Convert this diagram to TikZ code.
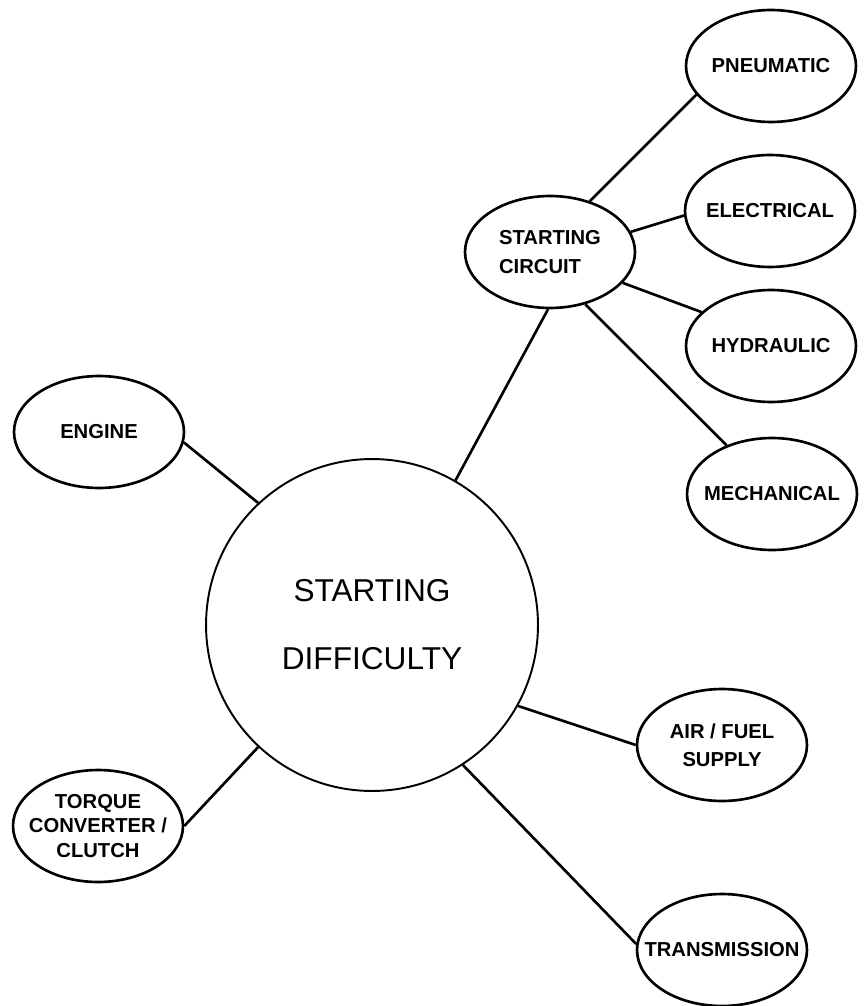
\documentclass[tikz,border=0pt]{standalone}
\usepackage{fontspec}
\setmainfont{Liberation Sans}
\usepackage{tikz}
\usetikzlibrary{shapes.geometric}

\begin{document}
\begin{tikzpicture}[x=0.02cm, y=-0.02cm, line width=1.5pt,
    core/.style={circle, draw, line width=1.1pt, minimum size=6.64cm, inner sep=0pt, align=center,
                 font=\fontsize{18}{38.7}\selectfont},
    topic/.style={ellipse, draw, minimum width=3.4cm, minimum height=2.24cm, inner xsep=-1.5cm, inner ysep=-1cm,
                  align=center, font=\bfseries\fontsize{11.5}{16}\selectfont}]
    \useasboundingbox (0,0) rectangle (867,1006);

    \node[core]  (diff)  at (372,625) {STARTING\\DIFFICULTY};
    \node[topic] (eng)   at (99,432)  {ENGINE};
    \node[topic, font=\bfseries\fontsize{11.5}{14.2}\selectfont] (tc) at (98,826) {TORQUE\\CONVERTER /\\CLUTCH};
    \node[topic, align=left] (sc) at (550,252) {STARTING\\CIRCUIT};
    \node[topic] (pneu)  at (771,66)  {PNEUMATIC};
    \node[topic] (elec)  at (770,211) {ELECTRICAL};
    \node[topic] (hyd)   at (771,346) {HYDRAULIC};
    \node[topic] (mech)  at (772,494) {MECHANICAL};
    \node[topic] (air)   at (722,745) {AIR / FUEL\\SUPPLY};
    \node[topic] (trans) at (722,950) {TRANSMISSION};

    \path (diff.133)  edge (eng.-7)
          (diff.-133) edge (tc.east)
          (diff.60.5) edge (sc.-92)
          (diff.-29)  edge (air.west)
          (diff.-57.6) edge (trans.176.6)
          (sc.52.8)   edge (pneu.-159)
          (sc.14.7)   edge (elec.183.4)
          (sc.-23)    edge (hyd.154)
          (sc.-56)    edge (mech.133.8);
\end{tikzpicture}
\end{document}
